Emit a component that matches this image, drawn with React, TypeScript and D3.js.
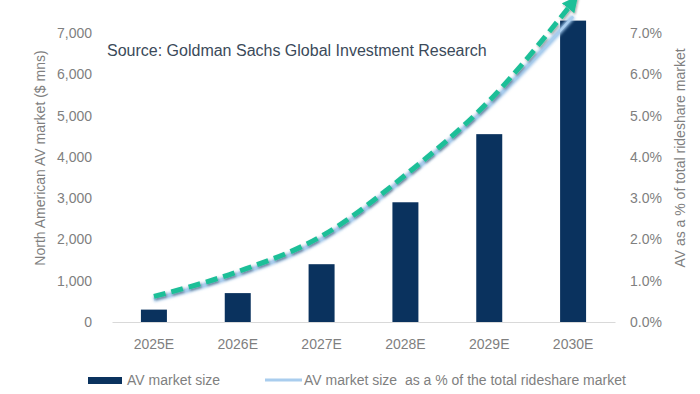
import React, { useRef, useEffect } from 'react';
import * as d3 from 'd3';

const years = ['2025E', '2026E', '2027E', '2028E', '2029E', '2030E'];
const marketSize = [300, 700, 1400, 2900, 4550, 7300];
const sharePct = [0.55, 1.15, 2.0, 3.5, 5.25, 7.4];
const trendPct = [0.62, 1.22, 2.08, 3.56, 5.36, 7.75];
const leftTicks = [0, 1000, 2000, 3000, 4000, 5000, 6000, 7000];
const rightTicks = [0, 1, 2, 3, 4, 5, 6, 7];

const FONT = '"Liberation Sans", Arial, sans-serif';
const NAVY = '#0a325e';
const GREY = '#7f7f7f';

const App = () => {
  const ref = useRef<SVGSVGElement>(null);

  useEffect(() => {
    const svg = d3.select(ref.current);
    svg.selectAll('*').remove();

    const x = d3.scaleBand()
      .domain(years)
      .range([112, 615])
      .paddingInner(0.69)
      .paddingOuter(0.345);

    const yLeft = d3.scaleLinear().domain([0, 7000]).range([322, 33]);
    const yRight = d3.scaleLinear().domain([0, 7]).range([322, 33]);

    const defs = svg.append('defs');
    defs.append('filter')
      .attr('id', 'glow')
      .attr('x', '-10%').attr('y', '-10%').attr('width', '120%').attr('height', '120%')
      .append('feGaussianBlur')
      .attr('stdDeviation', 1.6);
    defs.append('filter')
      .attr('id', 'shadow')
      .attr('x', '-10%').attr('y', '-10%').attr('width', '120%').attr('height', '120%')
      .append('feDropShadow')
      .attr('dx', 1).attr('dy', 1.5).attr('stdDeviation', 1)
      .attr('flood-color', '#000').attr('flood-opacity', 0.35);
    defs.append('marker')
      .attr('id', 'arrow')
      .attr('viewBox', '0 0 10 10')
      .attr('refX', 5).attr('refY', 5)
      .attr('markerWidth', 3.2).attr('markerHeight', 3.2)
      .attr('orient', 'auto')
      .append('path')
      .attr('d', 'M0,0 L10,5 L0,10 Z')
      .attr('fill', '#1fbf98');

    // baseline
    const xAxis = svg.append('g')
      .attr('transform', 'translate(0,322)')
      .call(d3.axisBottom(x).tickSize(0).tickSizeOuter(0).tickPadding(17));
    xAxis.select('.domain').attr('stroke', '#d9d9d9').attr('stroke-width', 1.2);
    xAxis.selectAll('text').attr('fill', GREY).style('font', `14px ${FONT}`);

    const leftAxis = svg.append('g')
      .attr('transform', 'translate(95,0)')
      .call(d3.axisLeft(yLeft).tickValues(leftTicks).tickSize(0).tickPadding(3).tickFormat(d3.format(',')));
    leftAxis.select('.domain').remove();
    leftAxis.selectAll('text').attr('fill', GREY).style('font', `14px ${FONT}`);

    const rightAxis = svg.append('g')
      .attr('transform', 'translate(627,0)')
      .call(d3.axisRight(yRight).tickValues(rightTicks).tickSize(0).tickPadding(3)
        .tickFormat(d => d3.format('.1f')(d as number) + '%'));
    rightAxis.select('.domain').remove();
    rightAxis.selectAll('text').attr('fill', GREY).style('font', `14px ${FONT}`);

    // axis titles
    svg.append('text')
      .attr('transform', 'translate(45,158) rotate(-90)')
      .attr('text-anchor', 'middle')
      .attr('fill', GREY)
      .style('font', `14px ${FONT}`)
      .text('North American AV market ($ mns)');

    svg.append('text')
      .attr('transform', 'translate(685,158) rotate(-90)')
      .attr('text-anchor', 'middle')
      .attr('fill', GREY)
      .style('font', `14px ${FONT}`)
      .text('AV as a % of total rideshare market');

    // bars
    svg.append('g')
      .selectAll('rect')
      .data(marketSize)
      .enter().append('rect')
      .attr('x', (_, i) => x(years[i]) as number)
      .attr('y', d => yLeft(d))
      .attr('width', x.bandwidth())
      .attr('height', d => yLeft(0) - yLeft(d))
      .attr('fill', NAVY);

    const cx = (i: number) => (x(years[i]) as number) + x.bandwidth() / 2;

    // share line (light blue, glowing)
    const shareLine = d3.line<number>()
      .x((_, i) => cx(i))
      .y(d => yRight(d))
      .curve(d3.curveMonotoneX);

    svg.append('path')
      .datum(sharePct)
      .attr('d', shareLine)
      .attr('fill', 'none')
      .attr('stroke', '#9cc3e8')
      .attr('stroke-width', 5)
      .attr('filter', 'url(#glow)');
    svg.append('path')
      .datum(sharePct)
      .attr('d', shareLine)
      .attr('fill', 'none')
      .attr('stroke', '#a9cdee')
      .attr('stroke-width', 2.5);

    // green dashed trend arrow
    const trendLine = d3.line<number>()
      .x((_, i) => cx(i))
      .y(d => yRight(d))
      .curve(d3.curveMonotoneX);

    svg.append('path')
      .datum(trendPct)
      .attr('d', trendLine)
      .attr('fill', 'none')
      .attr('stroke', '#1fbf98')
      .attr('stroke-width', 5)
      .attr('stroke-dasharray', '12,6')
      .attr('marker-end', 'url(#arrow)')
      .attr('filter', 'url(#shadow)');

    // source title
    svg.append('text')
      .attr('x', 107)
      .attr('y', 56)
      .attr('fill', '#3b4a5a')
      .style('font', `16px ${FONT}`)
      .text('Source: Goldman Sachs Global Investment Research');

    // legend
    const legend = svg.append('g');
    legend.append('rect')
      .attr('x', 88).attr('y', 377)
      .attr('width', 34).attr('height', 7)
      .attr('fill', NAVY);
    legend.append('text')
      .attr('x', 127).attr('y', 385)
      .attr('fill', GREY)
      .style('font', `14px ${FONT}`)
      .text('AV market size');
    legend.append('line')
      .attr('x1', 265).attr('x2', 302)
      .attr('y1', 380).attr('y2', 380)
      .attr('stroke', '#a9cdee')
      .attr('stroke-width', 3);
    legend.append('text')
      .attr('x', 304).attr('y', 385)
      .attr('fill', GREY)
      .style('font', `14px ${FONT}`)
      .style('white-space', 'pre')
      .text('AV market size  as a % of the total rideshare market');
  }, []);

  return (
    <svg
      ref={ref}
      width="700"
      height="394"
      style={{ position: 'absolute', left: 0, top: 0, background: '#fff' }}
    ></svg>
  );
};

export default App;
